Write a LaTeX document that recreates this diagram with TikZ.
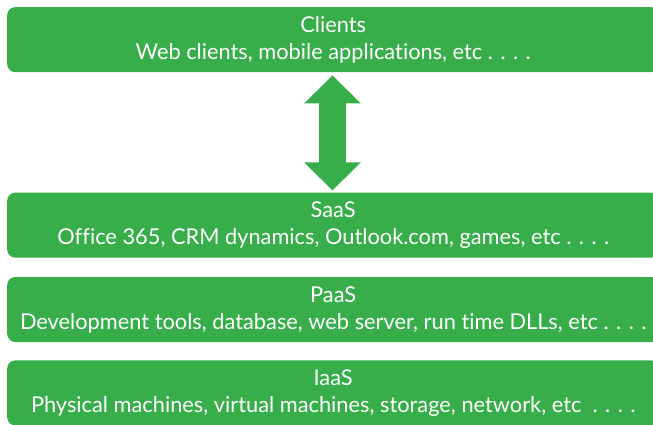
\documentclass[tikz,border=0pt]{standalone}
\usepackage{fontspec}
\setmainfont{Lato}[Ligatures=NoCommon]
\usepackage{tikz}
\usetikzlibrary{arrows.meta}
\usetikzlibrary{positioning}
\definecolor{layergreen}{RGB}{55,174,74}

\tikzset{
  layer/.style={fill=layergreen, rounded corners=8pt, minimum width=652pt,
    minimum height=65pt, inner sep=0pt, text=white, align=center,
    font=\fontsize{21.8}{27}\selectfont}
}

\begin{document}
\begin{tikzpicture}[x=1pt,y=-1pt]

  % page frame
  \useasboundingbox (0,0) rectangle (653,424);
  \clip (0,0) rectangle (653,424);

  % service layers
  \node[layer, anchor=north west] (clients) at (7,7)
    {Clients\\Web clients, mobile applications, etc . . . .};
  \node[layer, below=120pt of clients] (saas)
    {SaaS\\Office 365, CRM dynamics, Outlook.com, games, etc . . . .};
  \node[layer, below=19pt of saas] (paas)
    {PaaS\\Development tools, database, web server, run time DLLs, etc . . . .};
  \node[layer, below=18pt of paas] (iaas)
    {IaaS\\Physical machines, virtual machines, storage, network, etc \ . . . .};

  % two-way link between clients and SaaS
  \coordinate (mid) at (332.5,0);
  \coordinate (atop) at ([yshift=-3pt]clients.south -| mid);
  \coordinate (abot) at ([yshift=2pt]saas.north -| mid);
  \draw[layergreen, line width=27pt,
    {Triangle[length=28pt,width=55pt]}-{Triangle[length=28pt,width=55pt]}]
    (atop) -- (abot);

\end{tikzpicture}
\end{document}
